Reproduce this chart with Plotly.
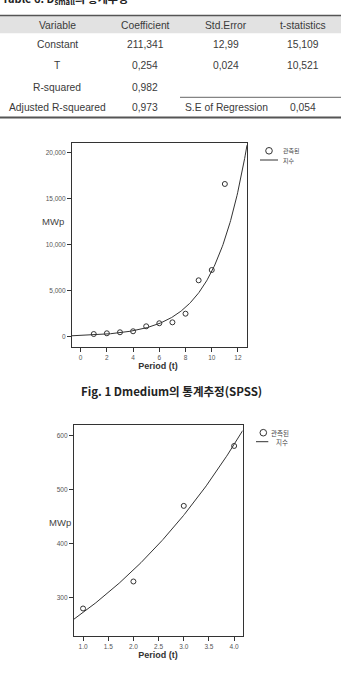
import numpy as np
import plotly.graph_objects as go

W, H = 341, 674

# ---------------- data ----------------
table_title = "Table 6. D<sub>small</sub>의 통계추정"
table_header = ["Variable", "Coefficient", "Std.Error", "t-statistics"]
table_variable = ["Constant", "T", "R-squared", "Adjusted R-squeared"]
table_coefficient = ["211,341", "0,254", "0,982", "0,973"]
table_std_error = ["12,99", "0,024", "", "S.E of Regression"]
table_t_stat = ["15,109", "10,521", "", "0,054"]

fig1_period = [1, 2, 3, 4, 5, 6, 7, 8, 9, 10, 11]
fig1_observed = [290, 370, 480, 590, 1130, 1460, 1560, 2500, 6130, 7250, 16600]
fig1_fit_const = 130.0
fig1_fit_rate = 0.40
fig1_xticks = [0, 2, 4, 6, 8, 10, 12]
fig1_yticks = [0, 5000, 10000, 15000, 20000]
fig1_yticklabels = ["0", "5,000", "10,000", "15,000", "20,000"]
fig1_caption = "Fig. 1 Dmedium의 통계추정(SPSS)"

fig2_period = [1, 2, 3, 4]
fig2_observed = [280, 330, 470, 581]
fig2_fit_const = 211.341
fig2_fit_rate = 0.254
fig2_xticks = [1.0, 1.5, 2.0, 2.5, 3.0, 3.5, 4.0]
fig2_xticklabels = ["1.0", "1.5", "2.0", "2.5", "3.0", "3.5", "4.0"]
fig2_yticks = [300, 400, 500, 600]
fig2_caption = "Fig. 2 Dsmall의 통계추정(SPSS)"

legend_observed = "관측된"
legend_fit = "지수"
y_label = "MWp"
x_label = "Period (t)"

# ---------------- helpers ----------------
def px(x):
    return x / W

def py(y):
    return 1 - y / H

INK = "#333333"
TXT = "#3a3a3a"
FONT = "Liberation Sans"
KFONT = "Noto Sans CJK KR"

fig = go.Figure()

# ---------------- chart 1 ----------------
x1_range = [-0.66, 12.69]
y1_range = [-1120, 21054]
t1 = np.linspace(x1_range[0], x1_range[1], 300)
fig.add_trace(go.Scatter(x=t1, y=fig1_fit_const * np.exp(fig1_fit_rate * t1),
                         mode="lines", line=dict(color=INK, width=1),
                         xaxis="x", yaxis="y", showlegend=False, hoverinfo="skip"))
fig.add_trace(go.Scatter(x=fig1_period, y=fig1_observed, mode="markers",
                         marker=dict(symbol="circle-open", size=5, color=INK, line=dict(width=1)),
                         xaxis="x", yaxis="y", showlegend=False))

# ---------------- chart 2 ----------------
x2_range = [0.82, 4.17]
y2_range = [229.6, 619.8]
t2 = np.linspace(x2_range[0], x2_range[1], 200)
fig.add_trace(go.Scatter(x=t2, y=fig2_fit_const * np.exp(fig2_fit_rate * t2),
                         mode="lines", line=dict(color=INK, width=1),
                         xaxis="x2", yaxis="y2", showlegend=False, hoverinfo="skip"))
fig.add_trace(go.Scatter(x=fig2_period, y=fig2_observed, mode="markers",
                         marker=dict(symbol="circle-open", size=5, color=INK, line=dict(width=1)),
                         xaxis="x2", yaxis="y2", showlegend=False))

# pixel-coordinate overlay: x-axis titles and the Fig. 2 caption (cut by the bottom edge)
fig.add_trace(go.Scatter(x=[158, 158], y=[366.5, 656], mode="text",
                         text=["<b>" + x_label + "</b>"] * 2,
                         textposition="middle center", cliponaxis=False,
                         textfont=dict(family=FONT, size=9, color="#333333"),
                         xaxis="x3", yaxis="y3", showlegend=False, hoverinfo="skip"))
fig.add_trace(go.Scatter(x=[171], y=[675.5], mode="text", text=["<b>" + fig2_caption + "</b>"],
                         textposition="middle center", cliponaxis=False,
                         textfont=dict(family=KFONT, size=11, color="#444444"),
                         xaxis="x3", yaxis="y3", showlegend=False, hoverinfo="skip"))

axis_common = dict(showline=True, linecolor=INK, linewidth=1.3, mirror=True,
                   ticks="outside", ticklen=4, tickwidth=1, tickcolor=INK,
                   showgrid=False, zeroline=False,
                   tickfont=dict(family=FONT, size=6.5, color="#555555"))

fig.update_layout(
    width=W, height=H,
    margin=dict(l=0, r=0, t=0, b=0),
    paper_bgcolor="white", plot_bgcolor="rgba(0,0,0,0)",
    xaxis=dict(domain=[px(72), px(247)], range=x1_range, anchor="y",
               tickvals=fig1_xticks, **axis_common),
    yaxis=dict(domain=[py(347), py(143)], range=y1_range, anchor="x",
               tickvals=fig1_yticks, ticktext=fig1_yticklabels, **axis_common),
    xaxis2=dict(domain=[px(74), px(242.7)], range=x2_range, anchor="y2",
                tickvals=fig2_xticks, ticktext=fig2_xticklabels, **axis_common),
    yaxis2=dict(domain=[py(635.7), py(425)], range=y2_range, anchor="x2",
                tickvals=fig2_yticks, **axis_common),
    xaxis3=dict(domain=[0, 1], range=[0, W], visible=False, fixedrange=True, anchor="y3"),
    yaxis3=dict(domain=[0, 1], range=[H, 0], visible=False, fixedrange=True, anchor="x3"),
)

shapes = []
ann = []

# ---------------- table ----------------
shapes.append(dict(type="rect", xref="paper", yref="paper",
                   x0=0, x1=1, y0=py(33.3), y1=py(15.7),
                   fillcolor="#e2e2e2", line=dict(width=0), layer="below"))
shapes.append(dict(type="line", xref="paper", yref="paper",
                   x0=0, x1=1, y0=py(15.5), y1=py(15.5), line=dict(color="#555555", width=1.5)))
shapes.append(dict(type="line", xref="paper", yref="paper",
                   x0=0, x1=1, y0=py(117.5), y1=py(117.5), line=dict(color="#555555", width=1.8)))
shapes.append(dict(type="line", xref="paper", yref="paper",
                   x0=px(180), x1=1, y0=py(97.3), y1=py(97.3), line=dict(color="#666666", width=1)))

col_x = [57, 145, 226, 303]
row_y = [44.5, 66, 87.7, 107.7]
for cx, h in zip(col_x, table_header):
    ann.append(dict(x=px(cx), y=py(25), text=h))
columns = [table_variable, table_coefficient, table_std_error, table_t_stat]
for cx, col in zip(col_x, columns):
    for ry, val in zip(row_y, col):
        if val:
            ann.append(dict(x=px(cx), y=py(ry), text=val))
for a in ann:
    a.update(xref="paper", yref="paper", showarrow=False, xanchor="center", yanchor="middle",
             font=dict(family=FONT, size=10.3, color=TXT))

ann.append(dict(x=0, y=py(-1), xref="paper", yref="paper", showarrow=False,
                xanchor="left", yanchor="middle", text="<b>" + table_title + "</b>",
                font=dict(family=KFONT, size=11, color="#222222")))

# ---------------- axis titles, captions ----------------
for (xx, yy) in [(53, 222), (60, 522)]:
    ann.append(dict(x=px(xx), y=py(yy), xref="paper", yref="paper", showarrow=False,
                    xanchor="center", yanchor="middle",
                    text=y_label, font=dict(family=FONT, size=9.5, color="#444444")))
ann.append(dict(x=px(171), y=py(391), xref="paper", yref="paper", showarrow=False,
                xanchor="center", yanchor="middle",
                text="<b>" + fig1_caption + "</b>", font=dict(family=KFONT, size=11.5, color="#222222")))

# ---------------- manual legends ----------------
def legend(cx, cy, r, tx1, lx0, lx1, ly, tx2, fs):
    shapes.append(dict(type="circle", xref="paper", yref="paper",
                       x0=px(cx - r), x1=px(cx + r), y0=py(cy + r), y1=py(cy - r),
                       line=dict(color=INK, width=1)))
    shapes.append(dict(type="line", xref="paper", yref="paper",
                       x0=px(lx0), x1=px(lx1), y0=py(ly), y1=py(ly),
                       line=dict(color=INK, width=1)))
    ann.append(dict(x=px(tx1), y=py(cy), xref="paper", yref="paper", showarrow=False,
                    xanchor="left", yanchor="middle", text=legend_observed,
                    font=dict(family=KFONT, size=fs, color="#444444")))
    ann.append(dict(x=px(tx2), y=py(ly), xref="paper", yref="paper", showarrow=False,
                    xanchor="left", yanchor="middle", text=legend_fit,
                    font=dict(family=KFONT, size=fs, color="#444444")))

legend(269, 150.8, 3.3, 281, 260, 278, 160, 281, 6)
legend(263.3, 432.7, 3.3, 268.5, 256, 268.3, 441.7, 273.5, 6.5)

fig.update_layout(shapes=shapes, annotations=ann)
fig.write_html("out.html")
